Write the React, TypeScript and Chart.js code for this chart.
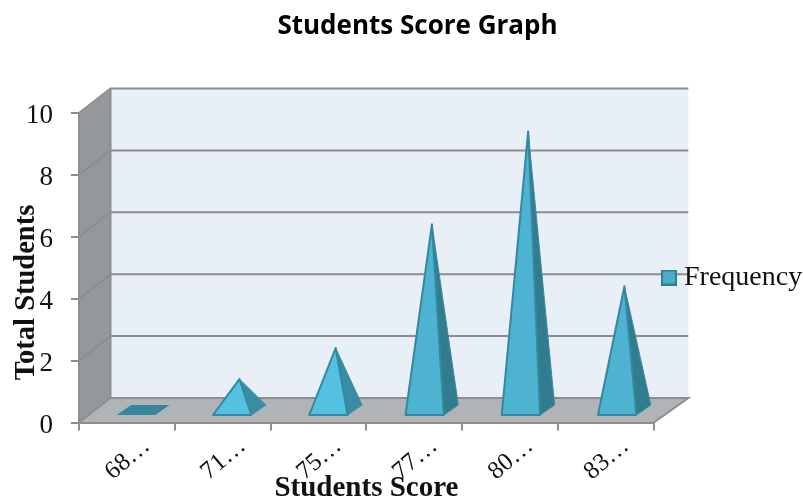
import React, { useEffect, useRef } from "react";
import { Chart, registerables } from "chart.js";

Chart.register(...registerables);

const chartTitle = "Students Score Graph";
const xTitle = "Students Score";
const yTitle = "Total Students";
const seriesName = "Frequency";
const categories = ["68…", "71…", "75…", "77…", "80…", "83…"];
const frequency = [0, 1, 2, 6, 9, 4];

const SERIF = "'Liberation Serif', serif";
const GRID = "#8b8d8f";
const WALL_DX = 31.5;
const WALL_DY = -24.5;
const SERIES_FILL = "#4bafcb";
const SERIES_EDGE = "#2f7f98";

function makeSwatch() {
  const c = document.createElement("canvas");
  c.width = 16;
  c.height = 16;
  const g = c.getContext("2d") as CanvasRenderingContext2D;
  g.fillStyle = SERIES_FILL;
  g.fillRect(0, 0, 16, 16);
  g.strokeStyle = SERIES_EDGE;
  g.lineWidth = 2;
  g.strokeRect(1, 1, 14, 14);
  return c;
}

const walls3d = {
  id: "walls3d",
  beforeDraw(chart: any) {
    const { ctx, chartArea: a, scales } = chart;
    const { left: l, right: r, top: t, bottom: b } = a;
    ctx.save();
    // back wall
    ctx.fillStyle = "#e8eff6";
    ctx.fillRect(l + WALL_DX, t + WALL_DY, r - l + 3, b - t);
    // side wall
    ctx.fillStyle = "#95989b";
    ctx.beginPath();
    ctx.moveTo(l, t);
    ctx.lineTo(l + WALL_DX, t + WALL_DY);
    ctx.lineTo(l + WALL_DX, b + WALL_DY);
    ctx.lineTo(l, b);
    ctx.closePath();
    ctx.fill();
    // floor
    ctx.fillStyle = "#b1b4b7";
    ctx.beginPath();
    ctx.moveTo(l, b);
    ctx.lineTo(l + WALL_DX, b + WALL_DY);
    ctx.lineTo(r + WALL_DX + 3, b + WALL_DY);
    ctx.lineTo(r, b);
    ctx.closePath();
    ctx.fill();
    // gridlines on side wall and back wall
    ctx.strokeStyle = GRID;
    ctx.lineWidth = 2;
    for (const tick of scales.y.ticks) {
      const y = scales.y.getPixelForValue(tick.value);
      ctx.beginPath();
      ctx.moveTo(l, y);
      ctx.lineTo(l + WALL_DX, y + WALL_DY);
      ctx.lineTo(r + WALL_DX + 3, y + WALL_DY);
      if (tick.value === 0) {
        ctx.lineTo(r, b);
      }
      ctx.stroke();
    }
    // wall corner
    ctx.beginPath();
    ctx.moveTo(l + WALL_DX, t + WALL_DY);
    ctx.lineTo(l + WALL_DX, b + WALL_DY);
    ctx.stroke();
    ctx.restore();
  },
};

const pyramids3d = {
  id: "pyramids3d",
  beforeDatasetDraw() {
    return false;
  },
  afterDatasetsDraw(chart: any) {
    const { ctx } = chart;
    const meta = chart.getDatasetMeta(0);
    const yScale = chart.scales.y;
    const zero = yScale.getPixelForValue(0);
    const depthX = 14.5;
    const depthY = -10;
    ctx.save();
    ctx.lineJoin = "round";
    meta.data.forEach((bar: any, i: number) => {
      const value = frequency[i];
      const w = bar.width;
      const x0 = bar.x + 9 + i * 0.45 - w / 2;
      const x1 = x0 + w;
      const yFront = zero - 7.5;
      const cx = x0 + (w + depthX) / 2;
      const cy = yFront + depthY / 2;
      const apexY = cy - (zero - yScale.getPixelForValue(value));
      if (value === 0) {
        ctx.fillStyle = "#36869f";
        ctx.beginPath();
        ctx.moveTo(x0, yFront);
        ctx.lineTo(x1, yFront);
        ctx.lineTo(x1 + depthX, yFront + depthY);
        ctx.lineTo(x0 + depthX, yFront + depthY);
        ctx.closePath();
        ctx.fill();
        return;
      }
      ctx.fillStyle = value <= 2 ? "#3a8ca5" : "#337b8f";
      ctx.strokeStyle = "#3a8ca5";
      ctx.lineWidth = 1;
      ctx.beginPath();
      ctx.moveTo(cx, apexY);
      ctx.lineTo(x1, yFront);
      ctx.lineTo(x1 + depthX, yFront + depthY);
      ctx.closePath();
      ctx.fill();
      ctx.stroke();
      ctx.fillStyle = value <= 2 ? "#55c1e0" : "#4db3d0";
      ctx.strokeStyle = "#3488a1";
      ctx.lineWidth = 2;
      ctx.beginPath();
      ctx.moveTo(cx, apexY);
      ctx.lineTo(x0, yFront);
      ctx.lineTo(x1, yFront);
      ctx.closePath();
      ctx.fill();
      ctx.stroke();
    });
    ctx.restore();
  },
};

const placeBlocks = {
  id: "placeBlocks",
  afterLayout(chart: any) {
    const lg = chart.legend;
    const w = lg.width;
    lg.left = 660;
    lg.right = 660 + w;
    lg.top = 77.5;
    lg.bottom = 477.5;
    lg.height = 400;
    const tb = chart.titleBlock;
    tb.left = 34;
    tb.right = 801;
  },
};

const yAxisTitle = {
  id: "yAxisTitle",
  afterDraw(chart: any) {
    const { ctx } = chart;
    ctx.save();
    ctx.translate(27, 292.5);
    ctx.rotate(-Math.PI / 2);
    ctx.font = `bold 28.5px ${SERIF}`;
    ctx.fillStyle = "#111111";
    ctx.textAlign = "center";
    ctx.textBaseline = "middle";
    ctx.fillText(yTitle, 0, 0);
    ctx.restore();
  },
};

export default function App() {
  const ref = useRef<HTMLCanvasElement | null>(null);
  useEffect(() => {
    const chart = new Chart(ref.current as HTMLCanvasElement, {
      type: "bar",
      data: {
        labels: categories,
        datasets: [
          {
            label: seriesName,
            data: frequency,
            backgroundColor: SERIES_FILL,
            borderColor: SERIES_EDGE,
            borderWidth: 2,
            barPercentage: 0.4,
            categoryPercentage: 1,
          },
        ],
      },
      options: {
        responsive: false,
        animation: false,
        layout: { autoPadding: false, padding: { left: 0, right: -3, top: 0, bottom: 0 } },
        plugins: {
          title: {
            display: true,
            text: chartTitle,
            color: "#000000",
            font: { family: "'Open Sans', sans-serif", weight: "bold", size: 26, lineHeight: 1.2 },
            padding: { top: 11.4, bottom: 70.4 },
          },
          legend: {
            display: true,
            position: "right",
            labels: {
              usePointStyle: true,
              pointStyle: makeSwatch(),
              pointStyleWidth: 2,
              boxHeight: 16,
              padding: 8,
              color: "#111111",
              font: { family: SERIF, size: 28 },
            },
          },
          tooltip: { enabled: false },
        },
        scales: {
          x: {
            grid: { drawOnChartArea: false, offset: true, color: GRID, lineWidth: 2, tickLength: 8 },
            border: { color: GRID, width: 2 },
            ticks: {
              autoSkip: false,
              minRotation: 40,
              maxRotation: 40,
              labelOffset: 20,
              padding: 1,
              color: "#111111",
              font: { family: SERIF, size: 25 },
            },
            title: {
              display: true,
              text: xTitle,
              color: "#111111",
              font: { family: SERIF, weight: "bold", size: 29, lineHeight: 1 },
              padding: { top: 0, bottom: -6 },
            },
            afterFit(s: any) {
              s.height = 74.5;
            },
          },
          y: {
            min: 0,
            max: 10,
            grid: { drawOnChartArea: false, color: GRID, lineWidth: 2, tickLength: 8 },
            border: { color: GRID, width: 2 },
            ticks: {
              stepSize: 2,
              padding: 18,
              labelOffset: 3,
              color: "#111111",
              font: { family: SERIF, size: 27 },
            },
            afterFit(s: any) {
              s.width = 79;
            },
          },
        },
      },
      plugins: [walls3d, pyramids3d, placeBlocks, yAxisTitle],
    } as any);
    return () => chart.destroy();
  }, []);
  return (
    <div style={{ position: "absolute", left: 0, top: 0, width: 803, height: 497, background: "#fff" }}>
      <canvas ref={ref} width={803} height={497} style={{ display: "block" }} />
    </div>
  );
}
